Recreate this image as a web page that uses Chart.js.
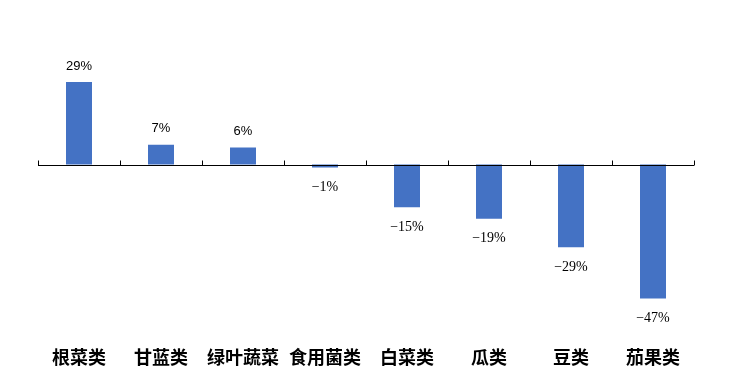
<!DOCTYPE html>
<html><head><meta charset="utf-8">
<script src="https://cdn.jsdelivr.net/npm/chart.js@4"></script>
<style>html,body{margin:0;padding:0;background:#fff;}#wrap{width:750px;height:379px;}</style>
</head><body><div id="wrap"><canvas id="c" width="750" height="379"></canvas></div>
<script>
const categories = ["根菜类","甘蓝类","绿叶蔬菜","食用菌类","白菜类","瓜类","豆类","茄果类"];
const values = [29, 7, 6, -1, -15, -19, -29, -47];
const valueLabels = ["29%","7%","6%","-1%","-15%","-19%","-29%","-47%"];

const axisPlugin = {
  id: 'axisPlugin',
  afterDatasetsDraw(chart) {
    const ctx = chart.ctx, ca = chart.chartArea;
    const y0 = Math.round(chart.scales.y.getPixelForValue(0)) + 0.5;
    ctx.save();
    ctx.strokeStyle = '#000'; ctx.lineWidth = 1;
    ctx.beginPath();
    ctx.moveTo(ca.left, y0); ctx.lineTo(ca.right, y0);
    const n = categories.length;
    const w = (ca.right - ca.left) / n;
    for (let i = 0; i <= n; i++) {
      const xx = Math.round(ca.left + i * w) + 0.5;
      ctx.moveTo(xx, y0); ctx.lineTo(xx, y0 - 5);
    }
    ctx.stroke();
    const meta = chart.getDatasetMeta(0);
    ctx.fillStyle = '#000';
    ctx.textAlign = 'center'; ctx.textBaseline = 'middle';
    meta.data.forEach((bar, i) => {
      const v = values[i];
      if (v >= 0) {
        ctx.font = '13px "Liberation Sans", Arial, sans-serif';
        ctx.fillText(valueLabels[i], bar.x, bar.y - 16);
      } else {
        ctx.font = '14px "Liberation Serif", serif';
        ctx.fillText(valueLabels[i].replace('-', '\u2212'), bar.x, bar.y + 20);
      }
    });
    ctx.restore();
  }
};

new Chart(document.getElementById('c'), {
  type: 'bar',
  data: {
    labels: categories,
    datasets: [{
      data: values,
      backgroundColor: '#4472C4',
      borderWidth: 0,
      categoryPercentage: 1,
      barPercentage: 0.317
    }]
  },
  options: {
    responsive: false,
    animation: false,
    events: [],
    layout: { padding: { left: 38, right: 56, top: 8, bottom: 8 } },
    plugins: { legend: { display: false }, tooltip: { enabled: false } },
    scales: {
      x: {
        grid: { display: false },
        border: { display: false },
        ticks: {
          color: '#000',
          padding: 3,
          maxRotation: 0,
          autoSkip: false,
          font: { family: '"Noto Sans CJK SC", sans-serif', size: 18, weight: 'bold' }
        }
      },
      y: {
        display: false,
        min: -60,
        max: 55
      }
    }
  },
  plugins: [axisPlugin]
});
</script>
</body></html>
